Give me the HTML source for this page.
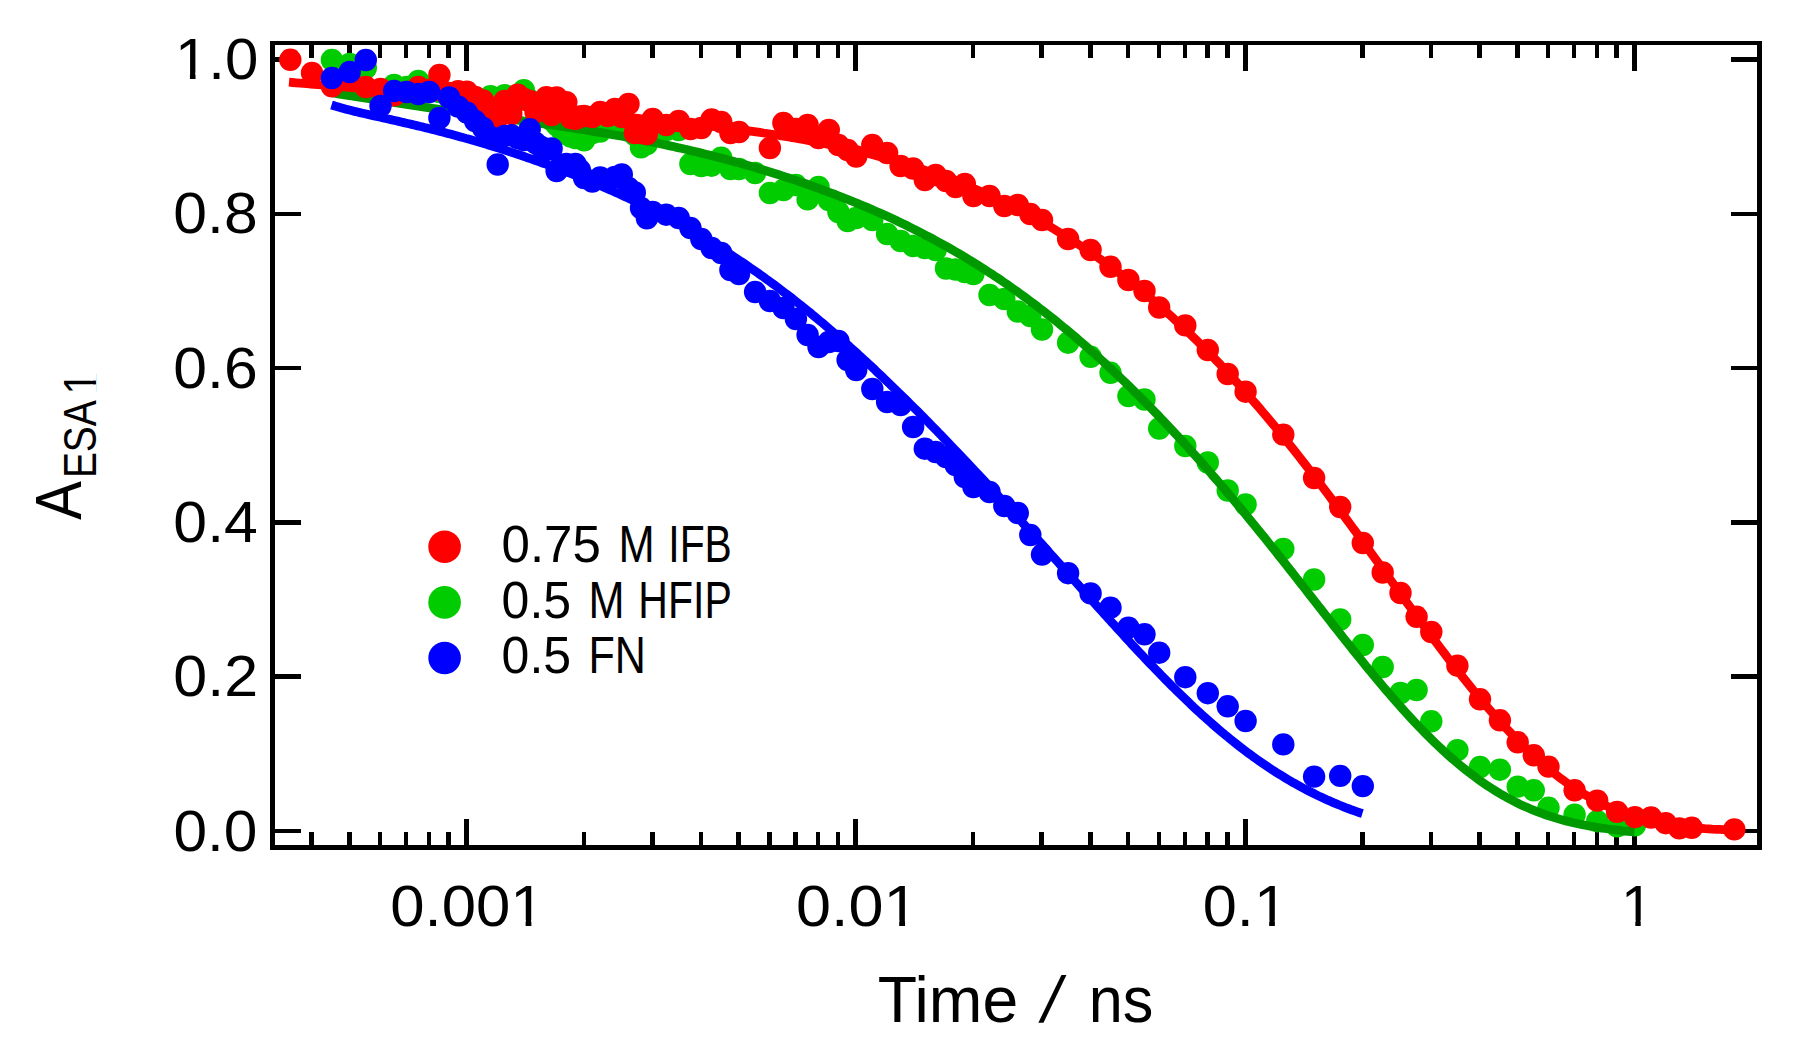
<!DOCTYPE html>
<html><head><meta charset="utf-8"><title>A ESA1 vs Time</title>
<style>html,body{margin:0;padding:0;background:#fff}svg{display:block}text{font-family:"Liberation Sans",sans-serif;fill:#000}</style></head>
<body>
<svg width="1811" height="1049" viewBox="0 0 1811 1049">
<rect width="1811" height="1049" fill="#fff"/>
<g fill="#000" shape-rendering="crispEdges"><rect x="270" y="41" width="1492" height="4"/><rect x="270" y="845" width="1492" height="5"/><rect x="270" y="41" width="5" height="809"/><rect x="1757" y="41" width="5" height="809"/><rect x="275" y="57.2" width="26" height="4.6"/><rect x="1731" y="57.2" width="26" height="4.6"/><rect x="275" y="211.5" width="26" height="4.6"/><rect x="1731" y="211.5" width="26" height="4.6"/><rect x="275" y="365.8" width="26" height="4.6"/><rect x="1731" y="365.8" width="26" height="4.6"/><rect x="275" y="520.1" width="26" height="4.6"/><rect x="1731" y="520.1" width="26" height="4.6"/><rect x="275" y="674.4" width="26" height="4.6"/><rect x="1731" y="674.4" width="26" height="4.6"/><rect x="275" y="828.7" width="26" height="4.6"/><rect x="1731" y="828.7" width="26" height="4.6"/><rect x="309.3" y="832" width="4.5" height="13"/><rect x="309.3" y="45" width="4.5" height="13"/><rect x="347.0" y="832" width="4.5" height="13"/><rect x="347.0" y="45" width="4.5" height="13"/><rect x="377.9" y="832" width="4.5" height="13"/><rect x="377.9" y="45" width="4.5" height="13"/><rect x="403.9" y="832" width="4.5" height="13"/><rect x="403.9" y="45" width="4.5" height="13"/><rect x="426.5" y="832" width="4.5" height="13"/><rect x="426.5" y="45" width="4.5" height="13"/><rect x="446.4" y="832" width="4.5" height="13"/><rect x="446.4" y="45" width="4.5" height="13"/><rect x="464.0" y="819" width="5" height="26"/><rect x="464.0" y="45" width="5" height="26"/><rect x="581.5" y="832" width="4.5" height="13"/><rect x="581.5" y="45" width="4.5" height="13"/><rect x="650.0" y="832" width="4.5" height="13"/><rect x="650.0" y="45" width="4.5" height="13"/><rect x="698.7" y="832" width="4.5" height="13"/><rect x="698.7" y="45" width="4.5" height="13"/><rect x="736.4" y="832" width="4.5" height="13"/><rect x="736.4" y="45" width="4.5" height="13"/><rect x="767.2" y="832" width="4.5" height="13"/><rect x="767.2" y="45" width="4.5" height="13"/><rect x="793.3" y="832" width="4.5" height="13"/><rect x="793.3" y="45" width="4.5" height="13"/><rect x="815.9" y="832" width="4.5" height="13"/><rect x="815.9" y="45" width="4.5" height="13"/><rect x="835.8" y="832" width="4.5" height="13"/><rect x="835.8" y="45" width="4.5" height="13"/><rect x="853.3" y="819" width="5" height="26"/><rect x="853.3" y="45" width="5" height="26"/><rect x="970.8" y="832" width="4.5" height="13"/><rect x="970.8" y="45" width="4.5" height="13"/><rect x="1039.3" y="832" width="4.5" height="13"/><rect x="1039.3" y="45" width="4.5" height="13"/><rect x="1088.0" y="832" width="4.5" height="13"/><rect x="1088.0" y="45" width="4.5" height="13"/><rect x="1125.7" y="832" width="4.5" height="13"/><rect x="1125.7" y="45" width="4.5" height="13"/><rect x="1156.5" y="832" width="4.5" height="13"/><rect x="1156.5" y="45" width="4.5" height="13"/><rect x="1182.6" y="832" width="4.5" height="13"/><rect x="1182.6" y="45" width="4.5" height="13"/><rect x="1205.2" y="832" width="4.5" height="13"/><rect x="1205.2" y="45" width="4.5" height="13"/><rect x="1225.1" y="832" width="4.5" height="13"/><rect x="1225.1" y="45" width="4.5" height="13"/><rect x="1242.7" y="819" width="5" height="26"/><rect x="1242.7" y="45" width="5" height="26"/><rect x="1360.1" y="832" width="4.5" height="13"/><rect x="1360.1" y="45" width="4.5" height="13"/><rect x="1428.7" y="832" width="4.5" height="13"/><rect x="1428.7" y="45" width="4.5" height="13"/><rect x="1477.3" y="832" width="4.5" height="13"/><rect x="1477.3" y="45" width="4.5" height="13"/><rect x="1515.0" y="832" width="4.5" height="13"/><rect x="1515.0" y="45" width="4.5" height="13"/><rect x="1545.9" y="832" width="4.5" height="13"/><rect x="1545.9" y="45" width="4.5" height="13"/><rect x="1571.9" y="832" width="4.5" height="13"/><rect x="1571.9" y="45" width="4.5" height="13"/><rect x="1594.5" y="832" width="4.5" height="13"/><rect x="1594.5" y="45" width="4.5" height="13"/><rect x="1614.4" y="832" width="4.5" height="13"/><rect x="1614.4" y="45" width="4.5" height="13"/><rect x="1632.0" y="819" width="5" height="26"/><rect x="1632.0" y="45" width="5" height="26"/></g>
<g fill="#00CC00"><circle cx="331.9" cy="60.0" r="11.2"/><circle cx="349.7" cy="64.0" r="11.2"/><circle cx="365.8" cy="68.0" r="11.2"/><circle cx="380.5" cy="90.0" r="11.2"/><circle cx="394.1" cy="85.0" r="11.2"/><circle cx="406.6" cy="87.0" r="11.2"/><circle cx="418.3" cy="81.0" r="11.2"/><circle cx="429.2" cy="90.0" r="11.2"/><circle cx="439.4" cy="92.0" r="11.2"/><circle cx="449.1" cy="95.0" r="11.2"/><circle cx="458.2" cy="98.0" r="11.2"/><circle cx="466.9" cy="100.0" r="11.2"/><circle cx="475.1" cy="100.0" r="11.2"/><circle cx="483.0" cy="100.0" r="11.2"/><circle cx="490.5" cy="96.2" r="11.2"/><circle cx="497.7" cy="100.0" r="11.2"/><circle cx="504.6" cy="95.2" r="11.2"/><circle cx="511.3" cy="100.0" r="11.2"/><circle cx="517.6" cy="100.0" r="11.2"/><circle cx="523.8" cy="90.2" r="11.2"/><circle cx="529.7" cy="100.0" r="11.2"/><circle cx="535.5" cy="108.0" r="11.2"/><circle cx="541.0" cy="110.0" r="11.2"/><circle cx="546.4" cy="115.0" r="11.2"/><circle cx="551.6" cy="120.0" r="11.2"/><circle cx="556.6" cy="125.0" r="11.2"/><circle cx="561.5" cy="130.0" r="11.2"/><circle cx="566.3" cy="134.0" r="11.2"/><circle cx="570.9" cy="136.5" r="11.2"/><circle cx="575.4" cy="138.0" r="11.2"/><circle cx="579.8" cy="138.0" r="11.2"/><circle cx="584.1" cy="140.3" r="11.2"/><circle cx="592.3" cy="133.0" r="11.2"/><circle cx="600.2" cy="131.5" r="11.2"/><circle cx="607.7" cy="125.0" r="11.2"/><circle cx="614.9" cy="125.0" r="11.2"/><circle cx="621.8" cy="125.0" r="11.2"/><circle cx="628.5" cy="128.0" r="11.2"/><circle cx="634.8" cy="135.0" r="11.2"/><circle cx="641.0" cy="147.4" r="11.2"/><circle cx="646.9" cy="144.0" r="11.2"/><circle cx="652.7" cy="135.0" r="11.2"/><circle cx="666.2" cy="130.0" r="11.2"/><circle cx="678.7" cy="130.0" r="11.2"/><circle cx="690.4" cy="164.0" r="11.2"/><circle cx="701.3" cy="166.0" r="11.2"/><circle cx="711.6" cy="165.7" r="11.2"/><circle cx="721.2" cy="157.7" r="11.2"/><circle cx="730.4" cy="169.0" r="11.2"/><circle cx="739.0" cy="169.0" r="11.2"/><circle cx="755.1" cy="173.0" r="11.2"/><circle cx="769.9" cy="193.0" r="11.2"/><circle cx="783.4" cy="190.0" r="11.2"/><circle cx="795.9" cy="185.0" r="11.2"/><circle cx="807.6" cy="199.4" r="11.2"/><circle cx="818.5" cy="187.0" r="11.2"/><circle cx="828.8" cy="200.0" r="11.2"/><circle cx="838.4" cy="212.0" r="11.2"/><circle cx="847.6" cy="221.0" r="11.2"/><circle cx="856.2" cy="218.0" r="11.2"/><circle cx="872.3" cy="220.0" r="11.2"/><circle cx="887.1" cy="234.0" r="11.2"/><circle cx="900.6" cy="241.0" r="11.2"/><circle cx="913.1" cy="246.0" r="11.2"/><circle cx="924.8" cy="248.0" r="11.2"/><circle cx="935.7" cy="250.0" r="11.2"/><circle cx="946.0" cy="268.5" r="11.2"/><circle cx="955.6" cy="269.5" r="11.2"/><circle cx="964.8" cy="272.0" r="11.2"/><circle cx="973.4" cy="274.0" r="11.2"/><circle cx="989.5" cy="295.0" r="11.2"/><circle cx="1004.3" cy="299.0" r="11.2"/><circle cx="1017.8" cy="311.5" r="11.2"/><circle cx="1030.3" cy="316.0" r="11.2"/><circle cx="1042.0" cy="329.5" r="11.2"/><circle cx="1068.1" cy="342.7" r="11.2"/><circle cx="1090.6" cy="356.8" r="11.2"/><circle cx="1110.5" cy="372.8" r="11.2"/><circle cx="1128.4" cy="396.1" r="11.2"/><circle cx="1144.5" cy="399.5" r="11.2"/><circle cx="1159.2" cy="428.5" r="11.2"/><circle cx="1185.3" cy="446.0" r="11.2"/><circle cx="1207.8" cy="462.5" r="11.2"/><circle cx="1227.7" cy="490.5" r="11.2"/><circle cx="1245.6" cy="504.5" r="11.2"/><circle cx="1283.3" cy="549.0" r="11.2"/><circle cx="1314.1" cy="579.5" r="11.2"/><circle cx="1340.2" cy="619.5" r="11.2"/><circle cx="1362.8" cy="645.0" r="11.2"/><circle cx="1382.7" cy="667.0" r="11.2"/><circle cx="1400.5" cy="693.0" r="11.2"/><circle cx="1416.6" cy="690.0" r="11.2"/><circle cx="1431.3" cy="721.3" r="11.2"/><circle cx="1457.4" cy="750.2" r="11.2"/><circle cx="1480.0" cy="767.0" r="11.2"/><circle cx="1499.9" cy="769.7" r="11.2"/><circle cx="1517.7" cy="786.6" r="11.2"/><circle cx="1533.8" cy="790.3" r="11.2"/><circle cx="1548.5" cy="807.8" r="11.2"/><circle cx="1574.6" cy="814.6" r="11.2"/><circle cx="1597.2" cy="821.2" r="11.2"/><circle cx="1617.1" cy="826.3" r="11.2"/><circle cx="1634.9" cy="825.3" r="11.2"/></g>
<path d="M331.5,92.7 L334.8,93.2 L338.0,93.8 L341.3,94.3 L344.5,94.8 L347.8,95.3 L351.1,95.8 L354.3,96.4 L357.6,96.9 L360.9,97.4 L364.1,97.9 L367.4,98.4 L370.7,98.9 L373.9,99.5 L377.2,100.0 L380.5,100.5 L383.7,101.0 L387.0,101.5 L390.3,102.0 L393.5,102.5 L396.8,103.0 L400.1,103.5 L403.3,104.0 L406.6,104.5 L409.9,105.0 L413.1,105.5 L416.4,106.0 L419.7,106.4 L422.9,106.9 L426.2,107.4 L429.5,107.9 L432.7,108.4 L436.0,108.8 L439.3,109.3 L442.5,109.8 L445.8,110.2 L449.0,110.7 L452.3,111.2 L455.6,111.6 L458.8,112.1 L462.1,112.5 L465.4,113.0 L468.6,113.5 L471.9,113.9 L475.2,114.4 L478.4,114.8 L481.7,115.3 L485.0,115.7 L488.2,116.1 L491.5,116.6 L494.8,117.0 L498.0,117.5 L501.3,117.9 L504.6,118.4 L507.8,118.8 L511.1,119.3 L514.4,119.7 L517.6,120.2 L520.9,120.6 L524.2,121.1 L527.4,121.5 L530.7,122.0 L534.0,122.4 L537.2,122.9 L540.5,123.3 L543.8,123.8 L547.0,124.3 L550.3,124.8 L553.6,125.2 L556.8,125.7 L560.1,126.2 L563.3,126.7 L566.6,127.2 L569.9,127.7 L573.1,128.2 L576.4,128.7 L579.7,129.2 L582.9,129.7 L586.2,130.2 L589.5,130.7 L592.7,131.3 L596.0,131.8 L599.3,132.3 L602.5,132.9 L605.8,133.4 L609.1,134.0 L612.3,134.6 L615.6,135.1 L618.9,135.7 L622.1,136.3 L625.4,136.9 L628.7,137.5 L631.9,138.1 L635.2,138.8 L638.5,139.4 L641.7,140.0 L645.0,140.7 L648.3,141.3 L651.5,142.0 L654.8,142.6 L658.1,143.3 L661.3,144.0 L664.6,144.7 L667.8,145.4 L671.1,146.1 L674.4,146.8 L677.6,147.6 L680.9,148.3 L684.2,149.0 L687.4,149.8 L690.7,150.6 L694.0,151.3 L697.2,152.1 L700.5,152.9 L703.8,153.7 L707.0,154.5 L710.3,155.3 L713.6,156.2 L716.8,157.0 L720.1,157.8 L723.4,158.7 L726.6,159.6 L729.9,160.5 L733.2,161.3 L736.4,162.2 L739.7,163.1 L743.0,164.1 L746.2,165.0 L749.5,165.9 L752.8,166.9 L756.0,167.8 L759.3,168.8 L762.6,169.8 L765.8,170.8 L769.1,171.8 L772.4,172.8 L775.6,173.8 L778.9,174.8 L782.1,175.9 L785.4,177.0 L788.7,178.0 L791.9,179.1 L795.2,180.2 L798.5,181.3 L801.7,182.4 L805.0,183.5 L808.3,184.7 L811.5,185.8 L814.8,187.0 L818.1,188.2 L821.3,189.4 L824.6,190.6 L827.9,191.8 L831.1,193.0 L834.4,194.2 L837.7,195.5 L840.9,196.8 L844.2,198.1 L847.5,199.3 L850.7,200.7 L854.0,202.0 L857.3,203.3 L860.5,204.7 L863.8,206.1 L867.1,207.4 L870.3,208.8 L873.6,210.3 L876.9,211.7 L880.1,213.1 L883.4,214.6 L886.7,216.1 L889.9,217.6 L893.2,219.1 L896.4,220.6 L899.7,222.2 L903.0,223.8 L906.2,225.3 L909.5,227.0 L912.8,228.6 L916.0,230.2 L919.3,231.9 L922.6,233.6 L925.8,235.3 L929.1,237.0 L932.4,238.7 L935.6,240.5 L938.9,242.3 L942.2,244.1 L945.4,245.9 L948.7,247.7 L952.0,249.6 L955.2,251.5 L958.5,253.4 L961.8,255.3 L965.0,257.3 L968.3,259.3 L971.6,261.2 L974.8,263.3 L978.1,265.3 L981.4,267.4 L984.6,269.5 L987.9,271.6 L991.2,273.7 L994.4,275.9 L997.7,278.0 L1000.9,280.2 L1004.2,282.5 L1007.5,284.7 L1010.7,287.0 L1014.0,289.3 L1017.3,291.6 L1020.5,294.0 L1023.8,296.4 L1027.1,298.8 L1030.3,301.2 L1033.6,303.6 L1036.9,306.1 L1040.1,308.6 L1043.4,311.1 L1046.7,313.7 L1049.9,316.2 L1053.2,318.8 L1056.5,321.4 L1059.7,324.1 L1063.0,326.8 L1066.3,329.5 L1069.5,332.2 L1072.8,334.9 L1076.1,337.7 L1079.3,340.5 L1082.6,343.3 L1085.9,346.1 L1089.1,349.0 L1092.4,351.9 L1095.7,354.8 L1098.9,357.8 L1102.2,360.7 L1105.5,363.7 L1108.7,366.8 L1112.0,369.8 L1115.2,372.9 L1118.5,376.0 L1121.8,379.1 L1125.0,382.2 L1128.3,385.4 L1131.6,388.6 L1134.8,391.8 L1138.1,395.0 L1141.4,398.3 L1144.6,401.6 L1147.9,404.9 L1151.2,408.2 L1154.4,411.6 L1157.7,414.9 L1161.0,418.4 L1164.2,421.8 L1167.5,425.2 L1170.8,428.7 L1174.0,432.2 L1177.3,435.7 L1180.6,439.3 L1183.8,442.8 L1187.1,446.4 L1190.4,450.0 L1193.6,453.7 L1196.9,457.3 L1200.2,461.0 L1203.4,464.7 L1206.7,468.4 L1210.0,472.2 L1213.2,476.0 L1216.5,479.7 L1219.7,483.5 L1223.0,487.4 L1226.3,491.2 L1229.5,495.1 L1232.8,499.0 L1236.1,502.9 L1239.3,506.8 L1242.6,510.8 L1245.9,514.7 L1249.1,518.7 L1252.4,522.7 L1255.7,526.7 L1258.9,530.7 L1262.2,534.8 L1265.5,538.8 L1268.7,542.9 L1272.0,547.0 L1275.3,551.1 L1278.5,555.2 L1281.8,559.3 L1285.1,563.4 L1288.3,567.6 L1291.6,571.7 L1294.9,575.9 L1298.1,580.1 L1301.4,584.2 L1304.7,588.4 L1307.9,592.6 L1311.2,596.8 L1314.5,600.9 L1317.7,605.1 L1321.0,609.3 L1324.3,613.5 L1327.5,617.6 L1330.8,621.8 L1334.0,626.0 L1337.3,630.1 L1340.6,634.3 L1343.8,638.4 L1347.1,642.5 L1350.4,646.6 L1353.6,650.7 L1356.9,654.8 L1360.2,658.8 L1363.4,662.8 L1366.7,666.9 L1370.0,670.8 L1373.2,674.8 L1376.5,678.7 L1379.8,682.6 L1383.0,686.5 L1386.3,690.4 L1389.6,694.2 L1392.8,697.9 L1396.1,701.7 L1399.4,705.4 L1402.6,709.0 L1405.9,712.6 L1409.2,716.2 L1412.4,719.7 L1415.7,723.2 L1419.0,726.7 L1422.2,730.0 L1425.5,733.4 L1428.8,736.7 L1432.0,739.9 L1435.3,743.1 L1438.5,746.2 L1441.8,749.3 L1445.1,752.3 L1448.3,755.2 L1451.6,758.1 L1454.9,760.9 L1458.1,763.7 L1461.4,766.4 L1464.7,769.0 L1467.9,771.6 L1471.2,774.1 L1474.5,776.6 L1477.7,779.0 L1481.0,781.3 L1484.3,783.6 L1487.5,785.8 L1490.8,787.9 L1494.1,790.0 L1497.3,792.0 L1500.6,794.0 L1503.9,795.8 L1507.1,797.7 L1510.4,799.4 L1513.7,801.1 L1516.9,802.8 L1520.2,804.4 L1523.5,805.9 L1526.7,807.3 L1530.0,808.8 L1533.3,810.1 L1536.5,811.4 L1539.8,812.7 L1543.1,813.8 L1546.3,815.0 L1549.6,816.1 L1552.8,817.1 L1556.1,818.1 L1559.4,819.1 L1562.6,820.0 L1565.9,820.9 L1569.2,821.7 L1572.4,822.5 L1575.7,823.2 L1579.0,824.0 L1582.2,824.6 L1585.5,825.3 L1588.8,825.9 L1592.0,826.5 L1595.3,827.0 L1598.6,827.6 L1601.8,828.1 L1605.1,828.5 L1608.4,829.0 L1611.6,829.4 L1614.9,829.8 L1618.2,830.2 L1621.4,830.6 L1624.7,831.0 L1628.0,831.3 L1631.2,831.6 L1634.5,831.9" fill="none" stroke="#009900" stroke-width="8.8"/>
<g fill="#FF0000"><circle cx="290.3" cy="59.8" r="11.2"/><circle cx="312.0" cy="73.0" r="11.2"/><circle cx="331.9" cy="86.3" r="11.2"/><circle cx="349.7" cy="80.0" r="11.2"/><circle cx="365.8" cy="87.0" r="11.2"/><circle cx="380.5" cy="89.0" r="11.2"/><circle cx="394.1" cy="95.3" r="11.2"/><circle cx="406.6" cy="92.0" r="11.2"/><circle cx="418.3" cy="87.0" r="11.2"/><circle cx="429.2" cy="90.0" r="11.2"/><circle cx="439.4" cy="75.0" r="11.2"/><circle cx="449.1" cy="93.0" r="11.2"/><circle cx="458.2" cy="91.2" r="11.2"/><circle cx="466.9" cy="91.7" r="11.2"/><circle cx="475.1" cy="97.0" r="11.2"/><circle cx="483.0" cy="100.5" r="11.2"/><circle cx="490.5" cy="117.0" r="11.2"/><circle cx="497.7" cy="117.8" r="11.2"/><circle cx="504.6" cy="101.0" r="11.2"/><circle cx="511.3" cy="114.0" r="11.2"/><circle cx="517.6" cy="94.7" r="11.2"/><circle cx="523.8" cy="99.0" r="11.2"/><circle cx="529.7" cy="101.0" r="11.2"/><circle cx="535.5" cy="112.0" r="11.2"/><circle cx="541.0" cy="110.0" r="11.2"/><circle cx="546.4" cy="97.2" r="11.2"/><circle cx="551.6" cy="115.0" r="11.2"/><circle cx="556.6" cy="97.4" r="11.2"/><circle cx="561.5" cy="108.0" r="11.2"/><circle cx="566.3" cy="102.2" r="11.2"/><circle cx="570.9" cy="118.0" r="11.2"/><circle cx="575.4" cy="118.8" r="11.2"/><circle cx="579.8" cy="116.5" r="11.2"/><circle cx="584.1" cy="116.0" r="11.2"/><circle cx="592.3" cy="117.0" r="11.2"/><circle cx="600.2" cy="112.0" r="11.2"/><circle cx="607.7" cy="116.0" r="11.2"/><circle cx="614.9" cy="109.0" r="11.2"/><circle cx="621.8" cy="117.0" r="11.2"/><circle cx="628.5" cy="104.0" r="11.2"/><circle cx="634.8" cy="133.0" r="11.2"/><circle cx="641.0" cy="133.0" r="11.2"/><circle cx="646.9" cy="134.0" r="11.2"/><circle cx="652.7" cy="119.0" r="11.2"/><circle cx="666.2" cy="125.0" r="11.2"/><circle cx="678.7" cy="121.0" r="11.2"/><circle cx="690.4" cy="129.0" r="11.2"/><circle cx="701.3" cy="128.0" r="11.2"/><circle cx="711.6" cy="119.5" r="11.2"/><circle cx="721.2" cy="122.0" r="11.2"/><circle cx="730.4" cy="133.0" r="11.2"/><circle cx="739.0" cy="132.0" r="11.2"/><circle cx="769.9" cy="148.0" r="11.2"/><circle cx="783.4" cy="123.0" r="11.2"/><circle cx="795.9" cy="129.0" r="11.2"/><circle cx="807.6" cy="125.0" r="11.2"/><circle cx="818.5" cy="138.0" r="11.2"/><circle cx="828.8" cy="130.0" r="11.2"/><circle cx="838.4" cy="145.0" r="11.2"/><circle cx="847.6" cy="150.0" r="11.2"/><circle cx="856.2" cy="156.5" r="11.2"/><circle cx="872.3" cy="145.0" r="11.2"/><circle cx="887.1" cy="153.0" r="11.2"/><circle cx="900.6" cy="166.0" r="11.2"/><circle cx="913.1" cy="168.5" r="11.2"/><circle cx="924.8" cy="180.0" r="11.2"/><circle cx="935.7" cy="175.0" r="11.2"/><circle cx="946.0" cy="181.0" r="11.2"/><circle cx="955.6" cy="187.0" r="11.2"/><circle cx="964.8" cy="184.0" r="11.2"/><circle cx="973.4" cy="196.0" r="11.2"/><circle cx="989.5" cy="196.0" r="11.2"/><circle cx="1004.3" cy="206.0" r="11.2"/><circle cx="1017.8" cy="205.0" r="11.2"/><circle cx="1030.3" cy="214.0" r="11.2"/><circle cx="1042.0" cy="220.0" r="11.2"/><circle cx="1068.1" cy="239.0" r="11.2"/><circle cx="1090.6" cy="250.0" r="11.2"/><circle cx="1110.5" cy="266.8" r="11.2"/><circle cx="1128.4" cy="280.0" r="11.2"/><circle cx="1144.5" cy="291.0" r="11.2"/><circle cx="1159.2" cy="307.5" r="11.2"/><circle cx="1185.3" cy="325.4" r="11.2"/><circle cx="1207.8" cy="350.0" r="11.2"/><circle cx="1227.7" cy="374.0" r="11.2"/><circle cx="1245.6" cy="391.7" r="11.2"/><circle cx="1283.3" cy="434.6" r="11.2"/><circle cx="1314.1" cy="478.0" r="11.2"/><circle cx="1340.2" cy="507.0" r="11.2"/><circle cx="1362.8" cy="543.0" r="11.2"/><circle cx="1382.7" cy="572.5" r="11.2"/><circle cx="1400.5" cy="593.0" r="11.2"/><circle cx="1416.6" cy="616.8" r="11.2"/><circle cx="1431.3" cy="632.0" r="11.2"/><circle cx="1457.4" cy="665.7" r="11.2"/><circle cx="1480.0" cy="699.3" r="11.2"/><circle cx="1499.9" cy="720.3" r="11.2"/><circle cx="1517.7" cy="742.3" r="11.2"/><circle cx="1533.8" cy="755.3" r="11.2"/><circle cx="1548.5" cy="766.6" r="11.2"/><circle cx="1574.6" cy="790.3" r="11.2"/><circle cx="1597.2" cy="800.6" r="11.2"/><circle cx="1617.1" cy="811.9" r="11.2"/><circle cx="1634.9" cy="817.1" r="11.2"/><circle cx="1651.0" cy="817.5" r="11.2"/><circle cx="1665.7" cy="823.2" r="11.2"/><circle cx="1679.3" cy="828.4" r="11.2"/><circle cx="1691.8" cy="827.8" r="11.2"/><circle cx="1734.3" cy="829.4" r="11.2"/></g>
<path d="M289.0,82.2 L292.6,82.5 L296.2,82.8 L299.9,83.1 L303.5,83.4 L307.1,83.7 L310.7,84.0 L314.3,84.3 L318.0,84.6 L321.6,84.9 L325.2,85.3 L328.8,85.6 L332.4,85.9 L336.1,86.2 L339.7,86.6 L343.3,86.9 L346.9,87.2 L350.6,87.6 L354.2,87.9 L357.8,88.3 L361.4,88.6 L365.0,89.0 L368.7,89.4 L372.3,89.7 L375.9,90.1 L379.5,90.5 L383.1,90.8 L386.8,91.2 L390.4,91.6 L394.0,92.0 L397.6,92.4 L401.3,92.7 L404.9,93.1 L408.5,93.5 L412.1,93.9 L415.7,94.3 L419.4,94.7 L423.0,95.1 L426.6,95.5 L430.2,95.9 L433.8,96.3 L437.5,96.7 L441.1,97.1 L444.7,97.5 L448.3,97.9 L451.9,98.4 L455.6,98.8 L459.2,99.2 L462.8,99.6 L466.4,100.0 L470.1,100.4 L473.7,100.8 L477.3,101.2 L480.9,101.6 L484.5,102.1 L488.2,102.5 L491.8,102.9 L495.4,103.3 L499.0,103.7 L502.6,104.1 L506.3,104.5 L509.9,104.9 L513.5,105.3 L517.1,105.7 L520.8,106.1 L524.4,106.5 L528.0,106.9 L531.6,107.3 L535.2,107.7 L538.9,108.1 L542.5,108.5 L546.1,108.9 L549.7,109.3 L553.3,109.7 L557.0,110.1 L560.6,110.5 L564.2,110.9 L567.8,111.2 L571.5,111.6 L575.1,112.0 L578.7,112.4 L582.3,112.7 L585.9,113.1 L589.6,113.5 L593.2,113.9 L596.8,114.2 L600.4,114.6 L604.0,115.0 L607.7,115.3 L611.3,115.7 L614.9,116.0 L618.5,116.4 L622.1,116.8 L625.8,117.1 L629.4,117.5 L633.0,117.9 L636.6,118.2 L640.3,118.6 L643.9,118.9 L647.5,119.3 L651.1,119.7 L654.7,120.0 L658.4,120.4 L662.0,120.8 L665.6,121.1 L669.2,121.5 L672.8,121.9 L676.5,122.3 L680.1,122.6 L683.7,123.0 L687.3,123.4 L691.0,123.8 L694.6,124.2 L698.2,124.6 L701.8,125.0 L705.4,125.4 L709.1,125.8 L712.7,126.3 L716.3,126.7 L719.9,127.1 L723.5,127.6 L727.2,128.0 L730.8,128.5 L734.4,128.9 L738.0,129.4 L741.6,129.9 L745.3,130.4 L748.9,130.9 L752.5,131.4 L756.1,131.9 L759.8,132.4 L763.4,133.0 L767.0,133.5 L770.6,134.1 L774.2,134.6 L777.9,135.2 L781.5,135.8 L785.1,136.4 L788.7,137.0 L792.3,137.6 L796.0,138.2 L799.6,138.9 L803.2,139.5 L806.8,140.2 L810.5,140.9 L814.1,141.6 L817.7,142.3 L821.3,143.0 L824.9,143.7 L828.6,144.5 L832.2,145.2 L835.8,146.0 L839.4,146.8 L843.0,147.6 L846.7,148.4 L850.3,149.2 L853.9,150.1 L857.5,150.9 L861.2,151.8 L864.8,152.7 L868.4,153.6 L872.0,154.6 L875.6,155.5 L879.3,156.5 L882.9,157.5 L886.5,158.5 L890.1,159.5 L893.7,160.5 L897.4,161.6 L901.0,162.6 L904.6,163.7 L908.2,164.9 L911.8,166.0 L915.5,167.1 L919.1,168.3 L922.7,169.5 L926.3,170.7 L930.0,172.0 L933.6,173.2 L937.2,174.5 L940.8,175.8 L944.4,177.1 L948.1,178.5 L951.7,179.8 L955.3,181.2 L958.9,182.6 L962.5,184.1 L966.2,185.5 L969.8,187.0 L973.4,188.5 L977.0,190.1 L980.7,191.6 L984.3,193.2 L987.9,194.8 L991.5,196.5 L995.1,198.1 L998.8,199.8 L1002.4,201.5 L1006.0,203.3 L1009.6,205.0 L1013.2,206.8 L1016.9,208.7 L1020.5,210.5 L1024.1,212.4 L1027.7,214.3 L1031.4,216.3 L1035.0,218.2 L1038.6,220.2 L1042.2,222.3 L1045.8,224.3 L1049.5,226.4 L1053.1,228.5 L1056.7,230.7 L1060.3,232.9 L1063.9,235.1 L1067.6,237.3 L1071.2,239.6 L1074.8,241.9 L1078.4,244.3 L1082.0,246.7 L1085.7,249.1 L1089.3,251.5 L1092.9,254.0 L1096.5,256.5 L1100.2,259.1 L1103.8,261.6 L1107.4,264.3 L1111.0,266.9 L1114.6,269.6 L1118.3,272.3 L1121.9,275.1 L1125.5,277.9 L1129.1,280.7 L1132.7,283.6 L1136.4,286.5 L1140.0,289.4 L1143.6,292.4 L1147.2,295.4 L1150.9,298.5 L1154.5,301.6 L1158.1,304.7 L1161.7,307.9 L1165.3,311.1 L1169.0,314.3 L1172.6,317.6 L1176.2,320.9 L1179.8,324.3 L1183.4,327.7 L1187.1,331.2 L1190.7,334.6 L1194.3,338.2 L1197.9,341.7 L1201.5,345.3 L1205.2,348.9 L1208.8,352.6 L1212.4,356.3 L1216.0,360.1 L1219.7,363.9 L1223.3,367.7 L1226.9,371.6 L1230.5,375.5 L1234.1,379.5 L1237.8,383.5 L1241.4,387.5 L1245.0,391.6 L1248.6,395.7 L1252.2,399.8 L1255.9,404.0 L1259.5,408.2 L1263.1,412.5 L1266.7,416.7 L1270.4,421.1 L1274.0,425.4 L1277.6,429.8 L1281.2,434.3 L1284.8,438.7 L1288.5,443.2 L1292.1,447.8 L1295.7,452.3 L1299.3,456.9 L1302.9,461.5 L1306.6,466.2 L1310.2,470.9 L1313.8,475.6 L1317.4,480.3 L1321.1,485.1 L1324.7,489.9 L1328.3,494.7 L1331.9,499.5 L1335.5,504.4 L1339.2,509.3 L1342.8,514.2 L1346.4,519.1 L1350.0,524.0 L1353.6,529.0 L1357.3,533.9 L1360.9,538.9 L1364.5,543.9 L1368.1,548.9 L1371.7,553.9 L1375.4,558.9 L1379.0,563.9 L1382.6,569.0 L1386.2,574.0 L1389.9,579.0 L1393.5,584.0 L1397.1,589.0 L1400.7,594.1 L1404.3,599.1 L1408.0,604.1 L1411.6,609.0 L1415.2,614.0 L1418.8,619.0 L1422.4,623.9 L1426.1,628.8 L1429.7,633.7 L1433.3,638.6 L1436.9,643.4 L1440.6,648.3 L1444.2,653.0 L1447.8,657.8 L1451.4,662.5 L1455.0,667.2 L1458.7,671.9 L1462.3,676.5 L1465.9,681.0 L1469.5,685.5 L1473.1,690.0 L1476.8,694.4 L1480.4,698.8 L1484.0,703.1 L1487.6,707.4 L1491.3,711.6 L1494.9,715.7 L1498.5,719.8 L1502.1,723.8 L1505.7,727.7 L1509.4,731.6 L1513.0,735.4 L1516.6,739.2 L1520.2,742.8 L1523.8,746.4 L1527.5,749.9 L1531.1,753.3 L1534.7,756.7 L1538.3,760.0 L1541.9,763.2 L1545.6,766.3 L1549.2,769.3 L1552.8,772.2 L1556.4,775.1 L1560.1,777.9 L1563.7,780.6 L1567.3,783.2 L1570.9,785.7 L1574.5,788.1 L1578.2,790.5 L1581.8,792.8 L1585.4,794.9 L1589.0,797.0 L1592.6,799.0 L1596.3,801.0 L1599.9,802.8 L1603.5,804.6 L1607.1,806.3 L1610.8,807.9 L1614.4,809.4 L1618.0,810.9 L1621.6,812.3 L1625.2,813.6 L1628.9,814.9 L1632.5,816.0 L1636.1,817.2 L1639.7,818.2 L1643.3,819.2 L1647.0,820.1 L1650.6,821.0 L1654.2,821.8 L1657.8,822.6 L1661.5,823.3 L1665.1,823.9 L1668.7,824.6 L1672.3,825.1 L1675.9,825.7 L1679.6,826.1 L1683.2,826.6 L1686.8,827.0 L1690.4,827.4 L1694.0,827.7 L1697.7,828.1 L1701.3,828.3 L1704.9,828.6 L1708.5,828.8 L1712.1,829.1 L1715.8,829.3 L1719.4,829.4 L1723.0,829.6 L1726.6,829.7 L1730.3,829.9 L1733.9,830.0" fill="none" stroke="#FF0000" stroke-width="8.8"/>
<g fill="#0000FF"><circle cx="331.9" cy="78.0" r="11.2"/><circle cx="349.7" cy="72.0" r="11.2"/><circle cx="365.8" cy="60.0" r="11.2"/><circle cx="380.5" cy="106.0" r="11.2"/><circle cx="394.1" cy="91.0" r="11.2"/><circle cx="406.6" cy="92.0" r="11.2"/><circle cx="418.3" cy="94.0" r="11.2"/><circle cx="429.2" cy="92.0" r="11.2"/><circle cx="439.4" cy="118.0" r="11.2"/><circle cx="449.1" cy="97.5" r="11.2"/><circle cx="458.2" cy="106.6" r="11.2"/><circle cx="466.9" cy="112.6" r="11.2"/><circle cx="475.1" cy="121.0" r="11.2"/><circle cx="483.0" cy="128.0" r="11.2"/><circle cx="490.5" cy="137.0" r="11.2"/><circle cx="497.7" cy="164.5" r="11.2"/><circle cx="504.6" cy="136.0" r="11.2"/><circle cx="511.3" cy="135.3" r="11.2"/><circle cx="517.6" cy="138.0" r="11.2"/><circle cx="523.8" cy="140.0" r="11.2"/><circle cx="529.7" cy="129.3" r="11.2"/><circle cx="535.5" cy="143.0" r="11.2"/><circle cx="541.0" cy="147.0" r="11.2"/><circle cx="546.4" cy="150.0" r="11.2"/><circle cx="551.6" cy="148.5" r="11.2"/><circle cx="556.6" cy="171.0" r="11.2"/><circle cx="561.5" cy="165.0" r="11.2"/><circle cx="566.3" cy="164.0" r="11.2"/><circle cx="570.9" cy="166.0" r="11.2"/><circle cx="575.4" cy="164.0" r="11.2"/><circle cx="579.8" cy="170.0" r="11.2"/><circle cx="584.1" cy="178.0" r="11.2"/><circle cx="592.3" cy="181.5" r="11.2"/><circle cx="600.2" cy="177.5" r="11.2"/><circle cx="607.7" cy="180.0" r="11.2"/><circle cx="614.9" cy="177.0" r="11.2"/><circle cx="621.8" cy="174.4" r="11.2"/><circle cx="628.5" cy="188.0" r="11.2"/><circle cx="634.8" cy="192.5" r="11.2"/><circle cx="641.0" cy="208.0" r="11.2"/><circle cx="646.9" cy="218.3" r="11.2"/><circle cx="652.7" cy="212.0" r="11.2"/><circle cx="666.2" cy="214.7" r="11.2"/><circle cx="678.7" cy="218.0" r="11.2"/><circle cx="690.4" cy="228.0" r="11.2"/><circle cx="701.3" cy="239.0" r="11.2"/><circle cx="711.6" cy="248.0" r="11.2"/><circle cx="721.2" cy="253.0" r="11.2"/><circle cx="730.4" cy="270.0" r="11.2"/><circle cx="739.0" cy="274.0" r="11.2"/><circle cx="755.1" cy="292.0" r="11.2"/><circle cx="769.9" cy="301.0" r="11.2"/><circle cx="783.4" cy="308.0" r="11.2"/><circle cx="795.9" cy="319.0" r="11.2"/><circle cx="807.6" cy="335.0" r="11.2"/><circle cx="818.5" cy="347.0" r="11.2"/><circle cx="828.8" cy="342.0" r="11.2"/><circle cx="838.4" cy="341.0" r="11.2"/><circle cx="847.6" cy="360.0" r="11.2"/><circle cx="856.2" cy="370.0" r="11.2"/><circle cx="872.3" cy="389.0" r="11.2"/><circle cx="887.1" cy="402.0" r="11.2"/><circle cx="900.6" cy="405.0" r="11.2"/><circle cx="913.1" cy="427.0" r="11.2"/><circle cx="924.8" cy="448.7" r="11.2"/><circle cx="935.7" cy="452.0" r="11.2"/><circle cx="946.0" cy="457.0" r="11.2"/><circle cx="955.6" cy="465.0" r="11.2"/><circle cx="964.8" cy="477.0" r="11.2"/><circle cx="973.4" cy="487.0" r="11.2"/><circle cx="989.5" cy="492.0" r="11.2"/><circle cx="1004.3" cy="506.0" r="11.2"/><circle cx="1017.8" cy="513.0" r="11.2"/><circle cx="1030.3" cy="535.0" r="11.2"/><circle cx="1042.0" cy="554.6" r="11.2"/><circle cx="1068.1" cy="573.2" r="11.2"/><circle cx="1090.6" cy="593.4" r="11.2"/><circle cx="1110.5" cy="607.7" r="11.2"/><circle cx="1128.4" cy="627.7" r="11.2"/><circle cx="1144.5" cy="634.3" r="11.2"/><circle cx="1159.2" cy="652.7" r="11.2"/><circle cx="1185.3" cy="677.2" r="11.2"/><circle cx="1207.8" cy="693.2" r="11.2"/><circle cx="1227.7" cy="706.3" r="11.2"/><circle cx="1245.6" cy="721.0" r="11.2"/><circle cx="1283.3" cy="744.4" r="11.2"/><circle cx="1314.1" cy="776.6" r="11.2"/><circle cx="1340.2" cy="775.9" r="11.2"/><circle cx="1362.8" cy="786.1" r="11.2"/></g>
<path d="M331.5,105.0 L334.1,105.8 L336.7,106.6 L339.2,107.3 L341.8,108.0 L344.4,108.7 L347.0,109.4 L349.6,110.1 L352.2,110.7 L354.7,111.4 L357.3,112.0 L359.9,112.6 L362.5,113.2 L365.1,113.8 L367.7,114.4 L370.2,115.0 L372.8,115.6 L375.4,116.2 L378.0,116.7 L380.6,117.3 L383.2,117.9 L385.7,118.5 L388.3,119.0 L390.9,119.6 L393.5,120.2 L396.1,120.8 L398.7,121.4 L401.2,122.0 L403.8,122.6 L406.4,123.2 L409.0,123.8 L411.6,124.4 L414.2,125.0 L416.7,125.6 L419.3,126.2 L421.9,126.8 L424.5,127.5 L427.1,128.1 L429.7,128.8 L432.2,129.4 L434.8,130.1 L437.4,130.7 L440.0,131.4 L442.6,132.0 L445.2,132.7 L447.7,133.4 L450.3,134.1 L452.9,134.8 L455.5,135.5 L458.1,136.2 L460.7,136.9 L463.3,137.6 L465.8,138.4 L468.4,139.1 L471.0,139.8 L473.6,140.6 L476.2,141.3 L478.8,142.1 L481.3,142.9 L483.9,143.6 L486.5,144.4 L489.1,145.2 L491.7,146.0 L494.3,146.8 L496.8,147.6 L499.4,148.4 L502.0,149.2 L504.6,150.1 L507.2,150.9 L509.8,151.7 L512.3,152.6 L514.9,153.4 L517.5,154.3 L520.1,155.1 L522.7,156.0 L525.3,156.9 L527.8,157.8 L530.4,158.7 L533.0,159.6 L535.6,160.5 L538.2,161.4 L540.8,162.3 L543.3,163.3 L545.9,164.2 L548.5,165.1 L551.1,166.1 L553.7,167.1 L556.3,168.0 L558.8,169.0 L561.4,170.0 L564.0,171.0 L566.6,172.0 L569.2,173.0 L571.8,174.0 L574.3,175.0 L576.9,176.0 L579.5,177.1 L582.1,178.1 L584.7,179.2 L587.3,180.2 L589.8,181.3 L592.4,182.4 L595.0,183.4 L597.6,184.5 L600.2,185.6 L602.8,186.8 L605.4,187.9 L607.9,189.0 L610.5,190.1 L613.1,191.3 L615.7,192.4 L618.3,193.6 L620.9,194.8 L623.4,196.0 L626.0,197.1 L628.6,198.3 L631.2,199.6 L633.8,200.8 L636.4,202.0 L638.9,203.2 L641.5,204.5 L644.1,205.8 L646.7,207.0 L649.3,208.3 L651.9,209.6 L654.4,210.9 L657.0,212.2 L659.6,213.5 L662.2,214.9 L664.8,216.2 L667.4,217.6 L669.9,218.9 L672.5,220.3 L675.1,221.7 L677.7,223.1 L680.3,224.5 L682.9,226.0 L685.4,227.4 L688.0,228.8 L690.6,230.3 L693.2,231.8 L695.8,233.3 L698.4,234.8 L700.9,236.3 L703.5,237.8 L706.1,239.3 L708.7,240.9 L711.3,242.5 L713.9,244.0 L716.4,245.6 L719.0,247.2 L721.6,248.8 L724.2,250.5 L726.8,252.1 L729.4,253.8 L732.0,255.5 L734.5,257.1 L737.1,258.8 L739.7,260.6 L742.3,262.3 L744.9,264.0 L747.5,265.8 L750.0,267.6 L752.6,269.3 L755.2,271.1 L757.8,272.9 L760.4,274.8 L763.0,276.6 L765.5,278.5 L768.1,280.3 L770.7,282.2 L773.3,284.1 L775.9,286.0 L778.5,288.0 L781.0,289.9 L783.6,291.9 L786.2,293.9 L788.8,295.8 L791.4,297.8 L794.0,299.9 L796.5,301.9 L799.1,303.9 L801.7,306.0 L804.3,308.1 L806.9,310.1 L809.5,312.2 L812.0,314.4 L814.6,316.5 L817.2,318.6 L819.8,320.8 L822.4,322.9 L825.0,325.1 L827.5,327.3 L830.1,329.5 L832.7,331.8 L835.3,334.0 L837.9,336.2 L840.5,338.5 L843.0,340.8 L845.6,343.1 L848.2,345.4 L850.8,347.7 L853.4,350.0 L856.0,352.3 L858.5,354.7 L861.1,357.0 L863.7,359.4 L866.3,361.8 L868.9,364.2 L871.5,366.6 L874.1,369.0 L876.6,371.5 L879.2,373.9 L881.8,376.3 L884.4,378.8 L887.0,381.3 L889.6,383.8 L892.1,386.3 L894.7,388.8 L897.3,391.3 L899.9,393.8 L902.5,396.3 L905.1,398.9 L907.6,401.4 L910.2,404.0 L912.8,406.6 L915.4,409.1 L918.0,411.7 L920.6,414.3 L923.1,416.9 L925.7,419.6 L928.3,422.2 L930.9,424.8 L933.5,427.5 L936.1,430.1 L938.6,432.8 L941.2,435.4 L943.8,438.1 L946.4,440.8 L949.0,443.5 L951.6,446.2 L954.1,448.9 L956.7,451.6 L959.3,454.3 L961.9,457.0 L964.5,459.7 L967.1,462.5 L969.6,465.2 L972.2,468.0 L974.8,470.7 L977.4,473.5 L980.0,476.3 L982.6,479.0 L985.1,481.8 L987.7,484.6 L990.3,487.4 L992.9,490.2 L995.5,493.0 L998.1,495.8 L1000.6,498.6 L1003.2,501.4 L1005.8,504.3 L1008.4,507.1 L1011.0,509.9 L1013.6,512.8 L1016.2,515.6 L1018.7,518.5 L1021.3,521.3 L1023.9,524.2 L1026.5,527.1 L1029.1,529.9 L1031.7,532.8 L1034.2,535.7 L1036.8,538.5 L1039.4,541.4 L1042.0,544.3 L1044.6,547.2 L1047.2,550.1 L1049.7,553.0 L1052.3,555.9 L1054.9,558.7 L1057.5,561.6 L1060.1,564.5 L1062.7,567.4 L1065.2,570.3 L1067.8,573.2 L1070.4,576.1 L1073.0,579.0 L1075.6,581.9 L1078.2,584.8 L1080.7,587.7 L1083.3,590.6 L1085.9,593.5 L1088.5,596.4 L1091.1,599.3 L1093.7,602.2 L1096.2,605.1 L1098.8,608.0 L1101.4,610.8 L1104.0,613.7 L1106.6,616.6 L1109.2,619.4 L1111.7,622.3 L1114.3,625.1 L1116.9,628.0 L1119.5,630.8 L1122.1,633.6 L1124.7,636.5 L1127.2,639.3 L1129.8,642.1 L1132.4,644.9 L1135.0,647.6 L1137.6,650.4 L1140.2,653.2 L1142.8,655.9 L1145.3,658.7 L1147.9,661.4 L1150.5,664.1 L1153.1,666.8 L1155.7,669.5 L1158.3,672.1 L1160.8,674.8 L1163.4,677.4 L1166.0,680.1 L1168.6,682.7 L1171.2,685.3 L1173.8,687.8 L1176.3,690.4 L1178.9,692.9 L1181.5,695.4 L1184.1,697.9 L1186.7,700.4 L1189.3,702.9 L1191.8,705.3 L1194.4,707.8 L1197.0,710.2 L1199.6,712.5 L1202.2,714.9 L1204.8,717.2 L1207.3,719.5 L1209.9,721.8 L1212.5,724.1 L1215.1,726.4 L1217.7,728.6 L1220.3,730.8 L1222.8,733.0 L1225.4,735.1 L1228.0,737.2 L1230.6,739.3 L1233.2,741.4 L1235.8,743.5 L1238.3,745.5 L1240.9,747.5 L1243.5,749.5 L1246.1,751.4 L1248.7,753.4 L1251.3,755.3 L1253.8,757.2 L1256.4,759.0 L1259.0,760.8 L1261.6,762.6 L1264.2,764.4 L1266.8,766.2 L1269.3,767.9 L1271.9,769.6 L1274.5,771.3 L1277.1,772.9 L1279.7,774.5 L1282.3,776.1 L1284.9,777.7 L1287.4,779.3 L1290.0,780.8 L1292.6,782.3 L1295.2,783.7 L1297.8,785.2 L1300.4,786.6 L1302.9,788.0 L1305.5,789.4 L1308.1,790.7 L1310.7,792.0 L1313.3,793.3 L1315.9,794.6 L1318.4,795.9 L1321.0,797.1 L1323.6,798.3 L1326.2,799.5 L1328.8,800.6 L1331.4,801.8 L1333.9,802.9 L1336.5,803.9 L1339.1,805.0 L1341.7,806.0 L1344.3,807.1 L1346.9,808.1 L1349.4,809.0 L1352.0,810.0 L1354.6,810.9 L1357.2,811.8 L1359.8,812.7 L1362.4,813.5" fill="none" stroke="#0000FF" stroke-width="8.8"/>
<circle cx="444.6" cy="546.7" r="16.3" fill="#FF0000"/>
<circle cx="444.6" cy="602.4" r="16.3" fill="#00CC00"/>
<circle cx="444.6" cy="658" r="16.3" fill="#0000FF"/>
<g transform="translate(175.00,79.10) scale(1.0338,1)"><text font-size="58">1.0</text><rect x="3.19" y="-6.38" width="11.25" height="7.08" fill="#fff"/><rect x="19.84" y="-6.38" width="11.19" height="7.08" fill="#fff"/></g>
<g transform="translate(173.37,233.40) scale(1.0457,1)"><text font-size="58">0.8</text></g>
<g transform="translate(173.37,387.70) scale(1.0457,1)"><text font-size="58">0.6</text></g>
<g transform="translate(173.37,542.00) scale(1.0469,1)"><text font-size="58">0.4</text></g>
<g transform="translate(173.36,696.30) scale(1.0517,1)"><text font-size="58">0.2</text></g>
<g transform="translate(173.38,850.60) scale(1.0417,1)"><text font-size="58">0.0</text></g>
<g transform="translate(390.23,926.20) scale(1.0633,1)"><text font-size="58">0.001</text><rect x="116.08" y="-6.38" width="11.25" height="7.08" fill="#fff"/><rect x="132.73" y="-6.38" width="11.19" height="7.08" fill="#fff"/></g>
<g transform="translate(796.08,926.20) scale(1.0845,1)"><text font-size="58">0.01</text><rect x="83.82" y="-6.38" width="11.25" height="7.08" fill="#fff"/><rect x="100.47" y="-6.38" width="11.19" height="7.08" fill="#fff"/></g>
<g transform="translate(1202.75,926.20) scale(1.0573,1)"><text font-size="58">0.1</text><rect x="51.56" y="-6.38" width="11.25" height="7.08" fill="#fff"/><rect x="68.21" y="-6.38" width="11.19" height="7.08" fill="#fff"/></g>
<g transform="translate(1620.88,926.20) scale(1.0000,1)"><text font-size="58">1</text><rect x="3.19" y="-6.38" width="11.25" height="7.08" fill="#fff"/><rect x="19.84" y="-6.38" width="11.19" height="7.08" fill="#fff"/></g>
<g transform="translate(877.65,1021.90) scale(0.9944,1)"><text font-size="64.7">Time</text></g>
<text transform="translate(1038.6,1021.9) skewX(-12)" font-size="64.7">/</text>
<g transform="translate(1088.77,1021.90) scale(0.9460,1)"><text font-size="64.7">ns</text></g>
<g transform="translate(81.00,519.84) rotate(-90) scale(0.8849,1)"><text font-size="65.5">A</text></g>
<g transform="translate(95.90,478.11) rotate(-90) scale(0.8451,1)"><text font-size="46.1">ESA</text></g>
<g transform="translate(95.90,394.44) rotate(-90) scale(0.8765,1)"><text font-size="46.1">1</text><rect x="2.54" y="-5.07" width="8.94" height="5.62" fill="#fff"/><rect x="15.77" y="-5.07" width="8.90" height="5.62" fill="#fff"/></g>
<g transform="translate(501.56,562.00) scale(0.9970,1)"><text font-size="51.2">0.75</text></g>
<g transform="translate(618.42,562.00) scale(0.8485,1)"><text font-size="51.2">M</text></g>
<g transform="translate(668.32,562.00) scale(0.7979,1)"><text font-size="51.2">IFB</text></g>
<g transform="translate(501.60,617.80) scale(0.9766,1)"><text font-size="51.2">0.5</text></g>
<g transform="translate(588.43,617.80) scale(0.8456,1)"><text font-size="51.2">M</text></g>
<g transform="translate(638.31,617.80) scale(0.8022,1)"><text font-size="51.2">HFIP</text></g>
<g transform="translate(501.60,672.90) scale(0.9766,1)"><text font-size="51.2">0.5</text></g>
<g transform="translate(588.45,672.90) scale(0.8415,1)"><text font-size="51.2">FN</text></g>
</svg>
</body></html>
